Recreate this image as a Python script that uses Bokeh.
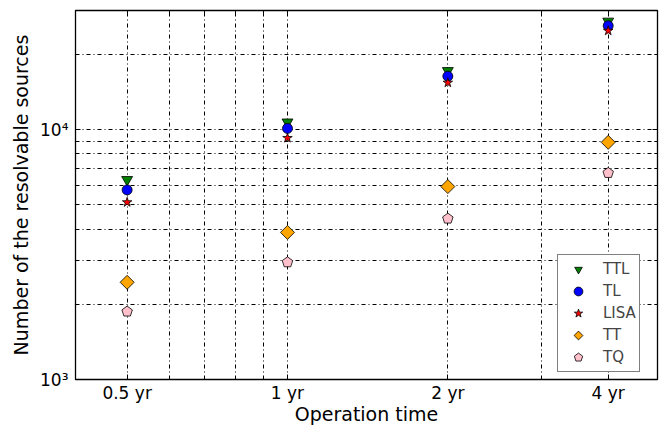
import math
from bokeh.plotting import figure
from bokeh.models import FixedTicker, LogAxis, Legend, LegendItem
from bokeh.embed import file_html
from bokeh.resources import INLINE

# ---- data ----
times = [0.5, 1, 2, 4]
time_labels = ["0.5 yr", "1 yr", "2 yr", "4 yr"]
ttl = [6310, 10720, 17220, 27160]
tl = [5740, 10120, 16370, 26060]
lisa = [5120, 9260, 15420, 24890]
tt = [2450, 3880, 5920, 8900]
tq = [1870, 2945, 4405, 6710]

x_minor = [0.6, 0.7, 0.8, 0.9, 3]
y_major = [1000, 10000]
y_minor = [2000, 3000, 4000, 5000, 6000, 7000, 8000, 9000, 20000, 30000]
y_labels = {1000: "10³", 10000: "10⁴"}

FONT = "DejaVu Sans"

p = figure(width=662, height=427, x_axis_type="log", y_axis_type="log",
           x_range=(0.4, 4.95), y_range=(1000, 30000),
           output_backend="svg", toolbar_location=None,
           min_border_left=75, min_border_right=5, min_border_top=10, min_border_bottom=48)
p.background_fill_color = "white"
p.border_fill_color = "white"
p.outline_line_color = "black"
p.outline_line_width = 1.3

xt = FixedTicker(ticks=times, minor_ticks=x_minor)
yt = FixedTicker(ticks=y_major, minor_ticks=y_minor)

def style_axis(ax, ticker, labels=True):
    ax.ticker = ticker
    ax.major_tick_in = 5
    ax.major_tick_out = 0
    ax.minor_tick_in = 3
    ax.minor_tick_out = 0
    ax.axis_line_color = "black"
    ax.major_tick_line_color = "black"
    ax.minor_tick_line_color = "black"
    ax.major_label_text_font = FONT
    ax.major_label_text_font_size = "17px"
    ax.major_label_text_color = "black"
    ax.axis_label_text_font = FONT
    ax.axis_label_text_font_size = "19px"
    ax.axis_label_text_font_style = "normal"
    ax.axis_label_text_color = "black"
    if not labels:
        ax.major_label_text_alpha = 0
        ax.major_label_text_font_size = "1px"

style_axis(p.xaxis[0], xt)
p.xaxis[0].major_label_overrides = {t: l for t, l in zip(times, time_labels)}
p.xaxis[0].major_label_standoff = 3
p.xaxis[0].axis_label = "Operation time"
p.xaxis[0].axis_label_standoff = -3

style_axis(p.yaxis[0], yt)
p.yaxis[0].major_label_overrides = y_labels
p.yaxis[0].major_label_standoff = 7
p.yaxis[0].axis_label = "Number of the resolvable sources"
p.yaxis[0].axis_label_standoff = 5

top = LogAxis()
style_axis(top, xt, labels=False)
top.major_label_standoff = 0
p.add_layout(top, "above")
right = LogAxis()
style_axis(right, yt, labels=False)
right.major_label_standoff = 0
p.add_layout(right, "right")

for g, t in ((p.xgrid[0], xt), (p.ygrid[0], yt)):
    g.ticker = t
    g.grid_line_color = "black"
    g.grid_line_dash = "4 3 1 3"
    g.grid_line_width = 1
    g.minor_grid_line_color = "black"
    g.minor_grid_line_dash = "4 3 1 3"
    g.minor_grid_line_width = 1

LW = 0.8
r1 = p.ngon(x=times, y=ttl, radius=6.3, n=3, angle=math.pi, radius_units="screen",
            fill_color="green", line_color="black", line_width=LW)
r2 = p.circle(x=times, y=tl, radius=5, radius_units="screen",
              fill_color="blue", line_color="black", line_width=LW)
r3 = p.scatter(times, lisa, marker="star", size=10, fill_color="red", line_color="black", line_width=LW)
r4 = p.ngon(x=times, y=tt, radius=7, n=4, radius_units="screen",
            fill_color="orange", line_color="black", line_width=LW)
r5 = p.ngon(x=times, y=tq, radius=5.5, n=5, radius_units="screen",
            fill_color="pink", line_color="black", line_width=LW)

legend = Legend(items=[LegendItem(label="TTL", renderers=[r1]),
                       LegendItem(label="TL", renderers=[r2]),
                       LegendItem(label="LISA", renderers=[r3]),
                       LegendItem(label="TT", renderers=[r4]),
                       LegendItem(label="TQ", renderers=[r5])],
                location=(482, 7))
legend.border_line_color = "black"
legend.border_line_width = 1
legend.background_fill_alpha = 1
legend.label_text_font = FONT
legend.label_text_font_size = "15px"
legend.glyph_width = 34
legend.glyph_height = 22
legend.label_height = 22
legend.spacing = 0
legend.padding = 3
legend.margin = 0
legend.label_standoff = 8
p.add_layout(legend, "center")

open("out.html", "w").write(file_html(p, INLINE))
